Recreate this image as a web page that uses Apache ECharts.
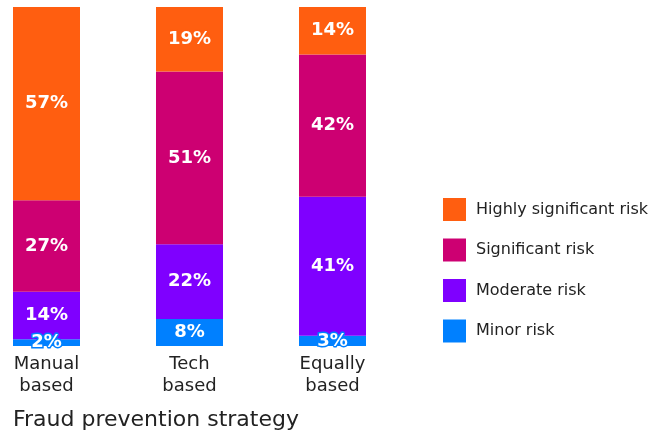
<!DOCTYPE html>
<html>
<head>
<meta charset="utf-8">
<style>
  html, body { margin: 0; padding: 0; background: #ffffff; }
  #chart { width: 653px; height: 434px; }
</style>
<script src="https://cdn.jsdelivr.net/npm/echarts@6/dist/echarts.min.js"></script>
</head>
<body>
<div id="chart"></div>
<script>
// Share of respondents by perceived fraud risk, per prevention strategy (%)
const categories = ['Manual\nbased', 'Tech\nbased', 'Equally\nbased'];
const minorRisk = [2, 8, 3];
const moderateRisk = [14, 22, 41];
const significantRisk = [27, 51, 42];
const highlySignificantRisk = [57, 19, 14];

const seriesNames = ['Minor risk', 'Moderate risk', 'Significant risk', 'Highly significant risk'];
const seriesColors = ['#0080FF', '#7F00FF', '#CD0072', '#FF5E10'];
const seriesValues = [minorRisk, moderateRisk, significantRisk, highlySignificantRisk];

const fontFamily = '"DejaVu Sans", "Noto Sans", sans-serif';

const chart = echarts.init(document.getElementById('chart'), null, { renderer: 'canvas' });

const series = seriesNames.map((name, i) => ({
  name: name,
  type: 'bar',
  stack: 'total',
  barWidth: 67,
  data: seriesValues[i],
  itemStyle: { color: seriesColors[i] },
  label: {
    show: true,
    position: 'inside',
    formatter: '{c}%',
    color: '#ffffff',
    fontFamily: fontFamily,
    fontWeight: 'bold',
    fontSize: 18,
    textBorderColor: seriesColors[i],
    textBorderWidth: 3
  },
  emphasis: { disabled: true }
}));

chart.setOption({
  animation: false,
  backgroundColor: '#ffffff',
  grid: { left: 46.5, right: 320.5, top: 7, bottom: 88, containLabel: false },
  xAxis: {
    type: 'category',
    data: categories,
    boundaryGap: false,
    axisLine: { show: false },
    axisTick: { show: false },
    splitLine: { show: false },
    axisLabel: {
      margin: 7,
      color: '#222222',
      fontFamily: fontFamily,
      fontSize: 18,
      lineHeight: 22
    }
  },
  yAxis: {
    type: 'value',
    min: 0,
    max: 100,
    show: false
  },
  legend: {
    orient: 'vertical',
    left: 443,
    top: 198,
    padding: 0,
    itemWidth: 23,
    itemHeight: 23,
    itemGap: 17.5,
    icon: 'rect',
    selectedMode: false,
    data: ['Highly significant risk', 'Significant risk', 'Moderate risk', 'Minor risk'],
    textStyle: {
      color: '#222222',
      fontFamily: fontFamily,
      fontSize: 16,
      padding: [0, 0, 0, 5]
    }
  },
  graphic: [{
    type: 'text',
    left: 13,
    top: 409,
    style: {
      text: 'Fraud prevention strategy',
      fill: '#222222',
      font: '22px ' + fontFamily
    }
  }],
  series: series
});
</script>
</body>
</html>
